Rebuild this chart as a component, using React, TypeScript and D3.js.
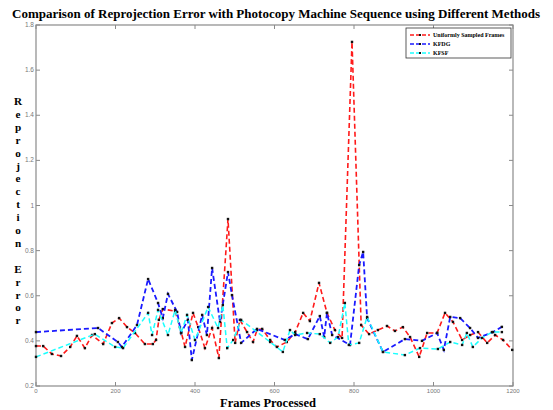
import React from "react";
import * as d3 from "d3";

const uniformX = [0, 18, 40, 63, 86, 103, 123, 141, 169, 191, 209, 229, 249, 274, 294, 302, 309, 319, 350, 362, 375, 395, 408, 425, 443, 460, 483, 501, 513, 531, 546, 556, 569, 589, 606, 631, 652, 672, 689, 712, 732, 752, 770, 795, 818, 838, 860, 883, 903, 923, 941, 964, 984, 1009, 1029, 1049, 1072, 1092, 1112, 1135, 1155, 1175, 1198];
const uniformY = [0.377, 0.377, 0.342, 0.333, 0.373, 0.422, 0.368, 0.426, 0.386, 0.479, 0.501, 0.461, 0.435, 0.386, 0.386, 0.404, 0.493, 0.541, 0.532, 0.461, 0.373, 0.524, 0.461, 0.368, 0.457, 0.324, 0.94, 0.391, 0.493, 0.439, 0.395, 0.448, 0.453, 0.404, 0.373, 0.395, 0.439, 0.524, 0.488, 0.657, 0.524, 0.448, 0.413, 1.725, 0.47, 0.43, 0.448, 0.466, 0.444, 0.461, 0.417, 0.329, 0.435, 0.435, 0.524, 0.484, 0.404, 0.426, 0.439, 0.391, 0.426, 0.404, 0.36];

const kfdgX = [0, 156, 206, 216, 254, 282, 307, 319, 332, 355, 365, 382, 392, 418, 430, 443, 463, 483, 493, 516, 556, 626, 652, 684, 714, 725, 732, 745, 790, 813, 823, 833, 873, 928, 971, 1009, 1026, 1042, 1067, 1092, 1112, 1150, 1172];
const kfdgY = [0.439, 0.457, 0.395, 0.373, 0.47, 0.674, 0.568, 0.501, 0.608, 0.528, 0.435, 0.493, 0.315, 0.515, 0.426, 0.723, 0.484, 0.705, 0.603, 0.391, 0.453, 0.404, 0.43, 0.408, 0.51, 0.417, 0.524, 0.426, 0.382, 0.736, 0.794, 0.501, 0.351, 0.408, 0.4, 0.435, 0.36, 0.506, 0.501, 0.457, 0.413, 0.439, 0.462];

const kfsfX = [0, 148, 199, 219, 282, 292, 307, 332, 350, 365, 380, 400, 433, 458, 470, 481, 496, 516, 589, 621, 639, 652, 682, 714, 740, 760, 777, 787, 813, 833, 873, 928, 966, 1011, 1042, 1072, 1084, 1099, 1122, 1147, 1172];
const kfsfY = [0.329, 0.43, 0.373, 0.368, 0.524, 0.426, 0.537, 0.426, 0.537, 0.435, 0.515, 0.404, 0.55, 0.457, 0.559, 0.368, 0.404, 0.493, 0.395, 0.351, 0.448, 0.426, 0.435, 0.43, 0.391, 0.417, 0.568, 0.382, 0.391, 0.506, 0.351, 0.337, 0.368, 0.364, 0.395, 0.382, 0.435, 0.373, 0.413, 0.439, 0.439];

const xTicks = [0, 200, 400, 600, 800, 1000, 1200];
const yTicks = [0.2, 0.4, 0.6, 0.8, 1, 1.2, 1.4, 1.6, 1.8];

const seriesNames = ["Uniformly Sampled Frames", "KFDG", "KFSF"];
const seriesColors = ["#ff1a1a", "#1a1aff", "#1affff"];

const title = "Comparison of Reprojection Error with Photocopy Machine Sequence using Different Methods";
const xLabel = "Frames Processed";
const yLabel = "Reprojection Error";

export default function App() {
  const W = 553, H = 410;
  const L = 36, R = 513, T = 25, B = 386;
  const x = d3.scaleLinear().domain([0, 1200]).range([L, R]);
  const y = d3.scaleLinear().domain([0.2, 1.8]).range([B, T]);
  const series = [
    { xs: uniformX, ys: uniformY, w: 1.6 },
    { xs: kfdgX, ys: kfdgY, w: 1.8 },
    { xs: kfsfX, ys: kfsfY, w: 1.5 },
  ];
  const line = d3.line<[number, number]>().x((d) => x(d[0])).y((d) => y(d[1]));
  const axisColor = "#8a8a8a";
  const tickFont = "'Liberation Sans', Arial, sans-serif";
  const serif = "'Liberation Serif', 'Times New Roman', serif";
  const letters = yLabel.split("");

  return (
    <svg width={W} height={H} style={{ position: "absolute", left: 0, top: 0, background: "#fff" }}>
      <rect x={0} y={0} width={W} height={H} fill="#fff" />
      <text x={276} y={18} textAnchor="middle" fontFamily={serif} fontWeight="bold" fontSize={12.6} textLength={528} lengthAdjust="spacingAndGlyphs" fill="#000">{title}</text>
      {/* frame */}
      <rect x={L} y={T} width={R - L} height={B - T} fill="none" stroke={axisColor} strokeWidth={1.2} />
      {xTicks.map((t) => (
        <g key={"x" + t}>
          <line x1={x(t)} x2={x(t)} y1={B} y2={B - 4} stroke={axisColor} />
          <line x1={x(t)} x2={x(t)} y1={T} y2={T + 4} stroke={axisColor} />
          <text x={x(t)} y={B + 7} textAnchor="middle" fontFamily={tickFont} fontSize={6} fill="#777">{t}</text>
        </g>
      ))}
      {yTicks.map((t) => (
        <g key={"y" + t}>
          <line x1={L} x2={L + 4} y1={y(t)} y2={y(t)} stroke={axisColor} />
          <line x1={R} x2={R - 4} y1={y(t)} y2={y(t)} stroke={axisColor} />
          <text x={L - 2} y={y(t) + 2} textAnchor="end" fontFamily={tickFont} fontSize={6.5} fill="#777">{d3.format("~g")(t)}</text>
        </g>
      ))}
      {series.map((s, i) => {
        const pts = s.xs.map((v, j) => [v, s.ys[j]] as [number, number]);
        return (
          <g key={"s" + i}>
            <path d={line(pts) || ""} fill="none" stroke={seriesColors[i]} strokeWidth={s.w} strokeDasharray="5,3" />
            {pts.map((p, j) => (
              <rect key={j} x={x(p[0]) - 1.2} y={y(p[1]) - 1.2} width={2.4} height={2.4} fill="#111" />
            ))}
          </g>
        );
      })}
      {/* legend */}
      <rect x={406} y={28} width={105} height={30} fill="#fff" stroke="#333" strokeWidth={0.8} />
      {seriesNames.map((n, i) => (
        <g key={"l" + i}>
          <line x1={410} x2={430} y1={35 + i * 9} y2={35 + i * 9} stroke={seriesColors[i]} strokeWidth={1.5} strokeDasharray="4,2" />
          <rect x={419} y={34 + i * 9} width={2} height={2} fill="#111" />
          <text x={433} y={37.2 + i * 9} fontFamily={serif} fontWeight="bold" fontSize={6} fill="#000">{n}</text>
        </g>
      ))}
      {/* axis labels */}
      <text x={268} y={406.5} textAnchor="middle" fontFamily={serif} fontWeight="bold" fontSize={12.5} fill="#000">{xLabel}</text>
      {letters.map((c, i) => (
        <text key={"yl" + i} x={18} y={105 + i * 12.9} textAnchor="middle" fontFamily={serif} fontWeight="bold" fontSize={11.2} fill="#000">{c}</text>
      ))}
    </svg>
  );
}
